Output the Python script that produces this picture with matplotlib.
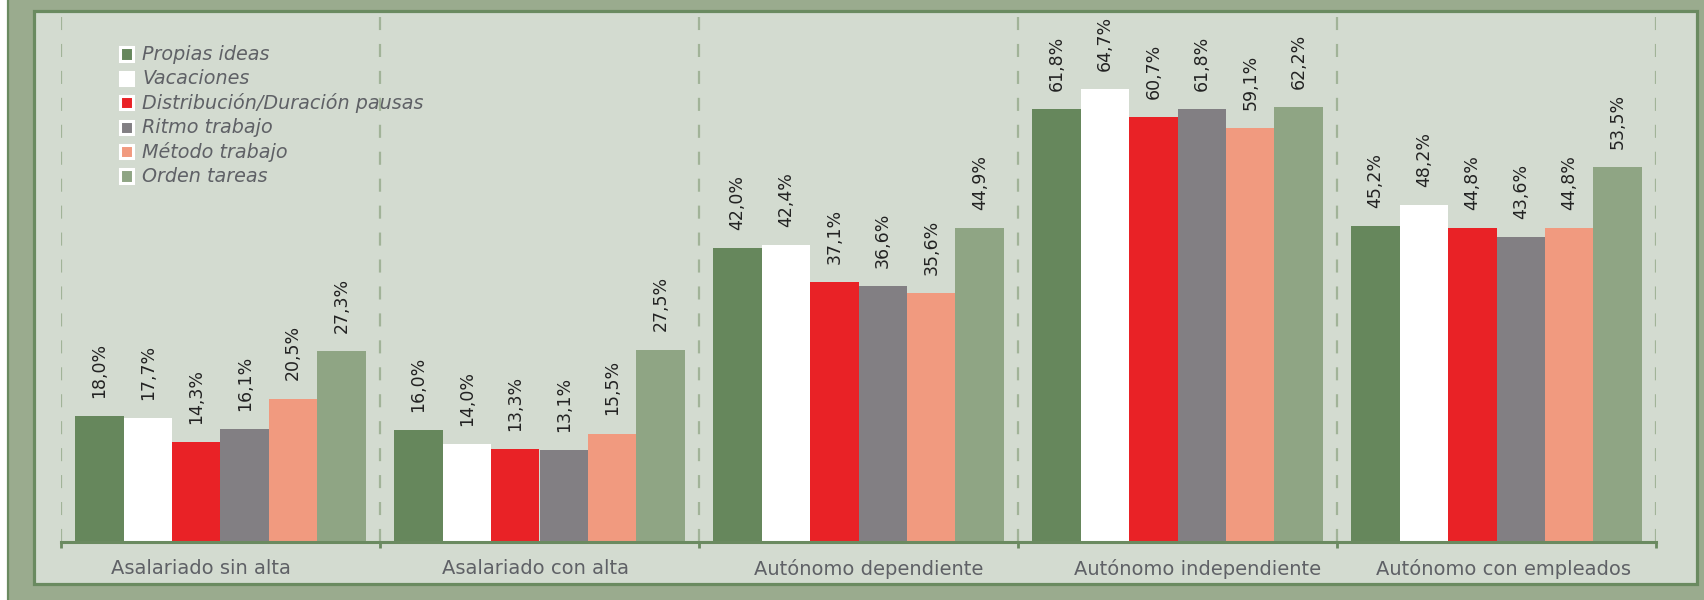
import numpy as np
import matplotlib.pyplot as plt
from matplotlib.patches import Rectangle
from matplotlib.transforms import ScaledTranslation

plt.rcParams['font.family'] = ['DejaVu Sans']
plt.rcParams['lines.scale_dashes'] = False

# data
categorias = ['Asalariado sin alta', 'Asalariado con alta', 'Autónomo dependiente',
              'Autónomo independiente', 'Autónomo con empleados']
series = ['Propias ideas', 'Vacaciones', 'Distribución/Duración pausas',
          'Ritmo trabajo', 'Método trabajo', 'Orden tareas']
propias_ideas = [18.0, 16.0, 42.0, 61.8, 45.2]
vacaciones = [17.7, 14.0, 42.4, 64.7, 48.2]
pausas = [14.3, 13.3, 37.1, 60.7, 44.8]
ritmo = [16.1, 13.1, 36.6, 61.8, 43.6]
metodo = [20.5, 15.5, 35.6, 59.1, 44.8]
orden = [27.3, 27.5, 44.9, 62.2, 53.5]
valores = [propias_ideas, vacaciones, pausas, ritmo, metodo, orden]

colores = ['#66875c', '#ffffff', '#e92226', '#827f83', '#f19a7f', '#8fa584']
verde_osc = '#6a8a60'
gris_txt = '#5f6166'

W, H = 1704, 600
fig = plt.figure(figsize=(W / 100, H / 100), dpi=100)
fig.patch.set_facecolor('white')

# outer frame and inner panel (behind the axes)
fig.add_artist(Rectangle((8 / W, -0.1), 1.2, 1.2, transform=fig.transFigure,
                         facecolor='#9aab8e', edgecolor=verde_osc, lw=1.6, zorder=-3))
fig.add_artist(Rectangle((34 / W, (600 - 584) / H), (1697 - 34) / W, (584 - 11) / H,
                         transform=fig.transFigure, facecolor='#d3dbd0',
                         edgecolor=verde_osc, lw=2.3, zorder=-2))

ax = fig.add_axes([61 / W, (600 - 542) / H, 1595 / W, (542 - 17) / H])
ax.set_facecolor('none')

x = np.arange(len(categorias))
bw = 0.152
for j, (nombre, vals) in enumerate(zip(series, valores)):
    pos = x + 0.5 + (j - 2.5) * bw
    ax.bar(pos, vals, width=bw, color=colores[j], zorder=2)
    for px, v in zip(pos, vals):
        ax.annotate(f"{v:.1f}%".replace('.', ','), (px, v), xytext=(0, 13),
                    textcoords='offset points', rotation=90, ha='center',
                    va='bottom', fontsize=12.5, color='#222222')

ax.set_xlim(0, len(categorias))
ax.set_ylim(0, 75)

# category boundaries as major ticks (dashed grid), names on minor ticks
ax.set_xticks(np.arange(len(categorias) + 1))
ax.set_xticklabels([])
ax.set_xticks(x + 0.5, minor=True)
ax.set_xticklabels(categorias, minor=True, fontsize=14, color=gris_txt)
ax.tick_params(axis='x', which='minor', length=0, pad=12)
ax.tick_params(axis='x', which='major', length=4, width=2, color=verde_osc, direction='out')
ax.grid(axis='x', which='major', color='#a1b398', lw=1.6, linestyle=(0, (9.4, 10)), zorder=1)
ax.set_axisbelow(True)
ax.set_yticks([])

# the original labels are not exactly centred under their groups
desplaz = [-20, -4, 10, 20, 7]
for lbl, dx in zip(ax.get_xticklabels(minor=True), desplaz):
    lbl.set_transform(lbl.get_transform() + ScaledTranslation(dx / 100, 0, fig.dpi_scale_trans))

for s in ['left', 'right', 'top']:
    ax.spines[s].set_visible(False)
ax.spines['bottom'].set_color(verde_osc)
ax.spines['bottom'].set_linewidth(2.2)
ax.spines['bottom'].set_zorder(3)

# legend
for i, (nombre, c) in enumerate(zip(series, colores)):
    yc = 54 + i * 24.4
    fig.add_artist(Rectangle(((126 - 6.5) / W, (H - yc - 6.5) / H), 13 / W, 13 / H,
                             transform=fig.transFigure, facecolor=c,
                             edgecolor='white', lw=2.2))
    fig.text(142 / W, (H - yc) / H, nombre, fontsize=13.8, style='italic',
             color=gris_txt, va='center', ha='left')

fig.savefig('out.png', dpi=100)
